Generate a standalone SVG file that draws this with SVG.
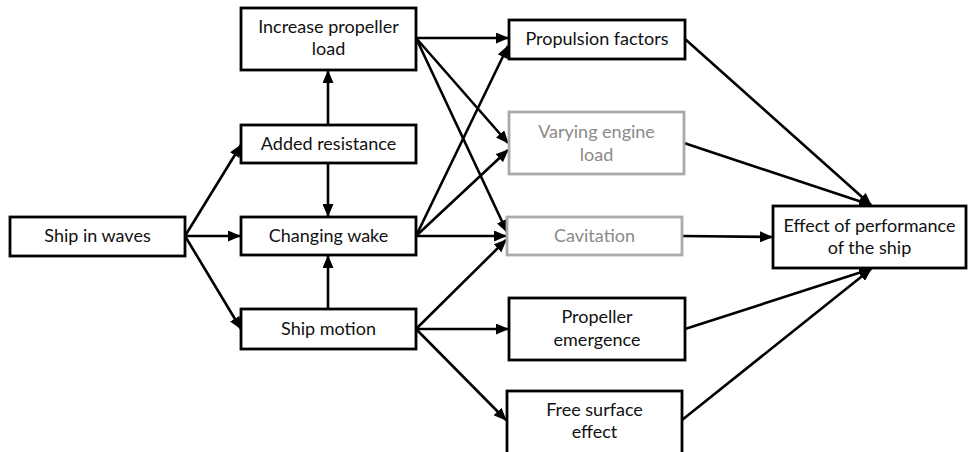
<svg xmlns="http://www.w3.org/2000/svg" width="968" height="452" viewBox="0 0 968 452">
<style>
.box{fill:#fff;stroke:#000;stroke-width:2.8}
.gbox{fill:#fff;stroke:#aaa;stroke-width:2.8}
.t{font-family:Lato,"Liberation Sans",sans-serif;font-size:18px;fill:#111;text-anchor:middle}
.gt{font-family:Lato,"Liberation Sans",sans-serif;font-size:18px;fill:#8a8a8a;text-anchor:middle}
.c{stroke:#000;stroke-width:2.6;fill:none;marker-end:url(#ah)}
</style>
<defs>
<marker id="ah" markerUnits="userSpaceOnUse" markerWidth="13" markerHeight="11" refX="12" refY="5.5" orient="auto">
<path d="M0,0 L13,5.5 L0,11 Z" fill="#000"/>
</marker>
</defs>
<rect width="968" height="452" fill="#fff"/>
<g id="connectors">
<line class="c" x1="185" y1="236" x2="241" y2="145"/>
<line class="c" x1="185" y1="236" x2="240" y2="236"/>
<line class="c" x1="185" y1="236" x2="241" y2="329"/>
<line class="c" x1="328" y1="125" x2="328" y2="71"/>
<line class="c" x1="328" y1="163" x2="328" y2="216"/>
<line class="c" x1="328" y1="309" x2="328" y2="256"/>
<line class="c" x1="416" y1="38" x2="508" y2="38"/>
<line class="c" x1="416" y1="38" x2="508" y2="143"/>
<line class="c" x1="416" y1="38" x2="507" y2="232"/>
<line class="c" x1="416" y1="236" x2="508" y2="46"/>
<line class="c" x1="416" y1="236" x2="508" y2="150"/>
<line class="c" x1="416" y1="236" x2="506" y2="236"/>
<line class="c" x1="416" y1="329" x2="506" y2="240"/>
<line class="c" x1="416" y1="329" x2="508" y2="329"/>
<line class="c" x1="416" y1="329" x2="506" y2="420"/>
<line class="c" x1="685" y1="39" x2="871" y2="205"/>
<line class="c" x1="684" y1="143" x2="871" y2="205"/>
<line class="c" x1="682" y1="236" x2="772" y2="237"/>
<line class="c" x1="685" y1="329" x2="871" y2="269"/>
<line class="c" x1="682" y1="420" x2="871" y2="269"/>
</g>
<g id="ship-in-waves"><rect class="box" x="10" y="217" width="175" height="39"/><text class="t" x="97.5" y="242">Ship in waves</text></g>
<g id="increase-propeller-load"><rect class="box" x="241" y="8" width="175" height="62"/><text class="t" x="328.5" y="33">Increase propeller</text><text class="t" x="328.5" y="55">load</text></g>
<g id="added-resistance"><rect class="box" x="241" y="125" width="175" height="38"/><text class="t" x="328.5" y="150">Added resistance</text></g>
<g id="changing-wake"><rect class="box" x="241" y="217" width="175" height="38"/><text class="t" x="328.5" y="242">Changing wake</text></g>
<g id="ship-motion"><rect class="box" x="241" y="309" width="175" height="40"/><text class="t" x="328.5" y="335">Ship motion</text></g>
<g id="propulsion-factors"><rect class="box" x="509" y="20" width="176" height="39"/><text class="t" x="597" y="45">Propulsion factors</text></g>
<g id="varying-engine-load"><rect class="gbox" x="509" y="112" width="175" height="62"/><text class="gt" x="596.5" y="138">Varying engine</text><text class="gt" x="596.5" y="161">load</text></g>
<g id="cavitation"><rect class="gbox" x="507" y="217" width="175" height="38"/><text class="gt" x="594.5" y="242">Cavitation</text></g>
<g id="propeller-emergence"><rect class="box" x="509" y="298" width="176" height="62"/><text class="t" x="597" y="323">Propeller</text><text class="t" x="597" y="346">emergence</text></g>
<g id="free-surface-effect"><rect class="box" x="507" y="391" width="175" height="64"/><text class="t" x="594.5" y="416">Free surface</text><text class="t" x="594.5" y="438">effect</text></g>
<g id="effect-of-performance"><rect class="box" x="773" y="206" width="193" height="62"/><text class="t" x="869.5" y="232">Effect of performance</text><text class="t" x="869.5" y="254">of the ship</text></g>
</svg>
